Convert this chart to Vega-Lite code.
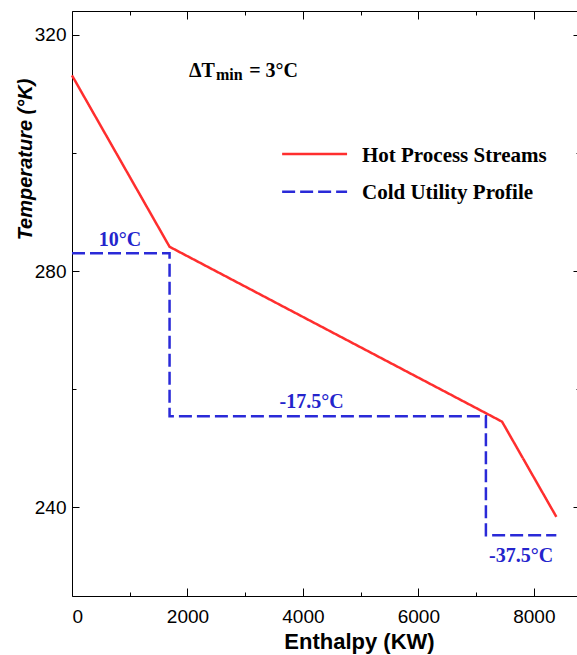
{
  "$schema": "https://vega.github.io/schema/vega-lite/v6.json",
  "width": 508,
  "height": 585,
  "autosize": {"type": "none"},
  "padding": {"left": 72, "top": 11, "right": 0, "bottom": 59},
  "background": "white",
  "config": {
    "view": {"stroke": "black", "strokeWidth": 1},
    "axis": {
      "domain": false,
      "tickColor": "black",
      "tickWidth": 1,
      "labelFont": "Liberation Sans",
      "labelFontSize": 19,
      "labelColor": "black",
      "titleFont": "Liberation Sans",
      "titleFontSize": 22,
      "titleFontWeight": "bold",
      "titleColor": "black",
      "grid": false
    }
  },
  "datasets": {
    "profiles": [
      {"stream": "Hot Process Streams", "idx": 1, "H": 0, "T": 313.1},
      {"stream": "Hot Process Streams", "idx": 2, "H": 1690, "T": 284.1},
      {"stream": "Hot Process Streams", "idx": 3, "H": 7450, "T": 254.5},
      {"stream": "Hot Process Streams", "idx": 4, "H": 8390, "T": 238.4},
      {"stream": "Cold Utility Profile", "idx": 1, "H": 0, "T": 283.0},
      {"stream": "Cold Utility Profile", "idx": 2, "H": 1690, "T": 283.0},
      {"stream": "Cold Utility Profile", "idx": 3, "H": 1690, "T": 255.4},
      {"stream": "Cold Utility Profile", "idx": 4, "H": 7170, "T": 255.4},
      {"stream": "Cold Utility Profile", "idx": 5, "H": 7170, "T": 235.3},
      {"stream": "Cold Utility Profile", "idx": 6, "H": 8390, "T": 235.3}
    ],
    "legendLines": [
      {"stream": "Hot Process Streams", "idx": 1, "H": 3640, "T": 299.8},
      {"stream": "Hot Process Streams", "idx": 2, "H": 4765, "T": 299.8},
      {"stream": "Cold Utility Profile", "idx": 1, "H": 3640, "T": 293.4},
      {"stream": "Cold Utility Profile", "idx": 2, "H": 4765, "T": 293.4}
    ],
    "legendText": [
      {"label": "Hot Process Streams", "H": 5023, "T": 298.5},
      {"label": "Cold Utility Profile", "H": 5023, "T": 292.2}
    ],
    "temps": [
      {"label": "10°C", "H": 830, "T": 284.2},
      {"label": "-17.5°C", "H": 4150, "T": 256.75},
      {"label": "-37.5°C", "H": 7780, "T": 230.8}
    ],
    "dtmain": [
      {"label": "ΔT", "H": 2026, "T": 312.84},
      {"label": "= 3°C", "H": 3070, "T": 312.84}
    ],
    "dtsub": [
      {"label": "min", "H": 2494, "T": 312.36}
    ]
  },
  "layer": [
    {
      "data": {"name": "profiles"},
      "mark": {"type": "line", "strokeWidth": 2.5},
      "encoding": {
        "x": {
          "field": "H", "type": "quantitative",
          "scale": {"domain": [0, 8800], "nice": false, "zero": false},
          "axis": {
            "orient": "bottom",
            "values": [0, 2000, 4000, 6000, 8000],
            "format": "d",
            "ticks": false,
            "labelPadding": 11,
            "title": "Enthalpy (KW)",
            "titleX": 287,
            "titleY": 52,
            "titleBaseline": "alphabetic",
            "titleAlign": "center"
          }
        },
        "y": {
          "field": "T", "type": "quantitative",
          "scale": {"domain": [225, 324], "nice": false, "zero": false},
          "axis": {
            "orient": "left",
            "values": [240, 280, 320],
            "format": "d",
            "ticks": false,
            "labelPadding": 6,
            "title": "Temperature (°K)",
            "titleFontStyle": "italic",
            "titleFontSize": 20,
            "titleX": -41,
            "titleY": 148,
            "titleAngle": -90,
            "titleBaseline": "alphabetic",
            "titleAlign": "center"
          }
        },
        "color": {
          "field": "stream", "type": "nominal", "legend": null,
          "scale": {"domain": ["Hot Process Streams", "Cold Utility Profile"], "range": ["#ff2e2e", "#2a2ad8"]}
        },
        "strokeDash": {
          "field": "stream", "type": "nominal", "legend": null,
          "scale": {"domain": ["Hot Process Streams", "Cold Utility Profile"], "range": [[1, 0], [13, 5]]}
        },
        "order": {"field": "idx", "type": "quantitative"}
      }
    },
    {
      "data": {"name": "legendLines"},
      "mark": {"type": "line", "strokeWidth": 2.5},
      "encoding": {
        "x": {
          "field": "H", "type": "quantitative",
          "axis": {"orient": "bottom", "values": [0, 2000, 4000, 6000, 8000], "labels": false, "title": null, "tickSize": 8, "offset": -8}
        },
        "y": {
          "field": "T", "type": "quantitative",
          "axis": {"orient": "left", "values": [240, 280, 320], "labels": false, "title": null, "tickSize": 7, "offset": -7}
        },
        "color": {"field": "stream", "type": "nominal", "legend": null},
        "strokeDash": {"field": "stream", "type": "nominal", "legend": null},
        "order": {"field": "idx", "type": "quantitative"}
      }
    },
    {
      "data": {"name": "legendText"},
      "mark": {"type": "text", "font": "Liberation Serif", "fontSize": 21, "fontWeight": "bold", "color": "black", "align": "left", "baseline": "alphabetic"},
      "encoding": {
        "x": {
          "field": "H", "type": "quantitative",
          "axis": {"orient": "bottom", "values": [1000, 3000, 5000, 7000], "labels": false, "title": null, "tickSize": 4, "offset": -4}
        },
        "y": {
          "field": "T", "type": "quantitative",
          "axis": {"orient": "left", "values": [260, 300], "labels": false, "title": null, "tickSize": 4, "offset": -4}
        },
        "text": {"field": "label"}
      }
    },
    {
      "data": {"name": "temps"},
      "mark": {"type": "text", "font": "Liberation Serif", "fontSize": 20, "fontWeight": "bold", "color": "#2424cc", "align": "center", "baseline": "alphabetic"},
      "encoding": {
        "x": {
          "field": "H", "type": "quantitative",
          "axis": {"orient": "top", "values": [0, 2000, 4000, 6000, 8000], "labels": false, "title": null, "tickSize": 8, "offset": -8}
        },
        "y": {
          "field": "T", "type": "quantitative",
          "axis": {"orient": "right", "values": [240, 280, 320], "labels": false, "title": null, "tickSize": 7, "offset": -7}
        },
        "text": {"field": "label"}
      }
    },
    {
      "data": {"name": "dtmain"},
      "mark": {"type": "text", "font": "Liberation Serif", "fontSize": 20, "fontWeight": "bold", "color": "black", "align": "left", "baseline": "alphabetic"},
      "encoding": {
        "x": {
          "field": "H", "type": "quantitative",
          "axis": {"orient": "top", "values": [1000, 3000, 5000, 7000], "labels": false, "title": null, "tickSize": 4, "offset": -4}
        },
        "y": {
          "field": "T", "type": "quantitative",
          "axis": {"orient": "right", "values": [260, 300], "labels": false, "title": null, "tickSize": 4, "offset": -4}
        },
        "text": {"field": "label"}
      }
    },
    {
      "data": {"name": "dtsub"},
      "mark": {"type": "text", "font": "Liberation Serif", "fontSize": 16, "fontWeight": "bold", "color": "black", "align": "left", "baseline": "alphabetic"},
      "encoding": {
        "x": {"field": "H", "type": "quantitative", "axis": null},
        "y": {"field": "T", "type": "quantitative", "axis": null},
        "text": {"field": "label"}
      }
    }
  ],
  "resolve": {"axis": {"x": "independent", "y": "independent"}}
}
